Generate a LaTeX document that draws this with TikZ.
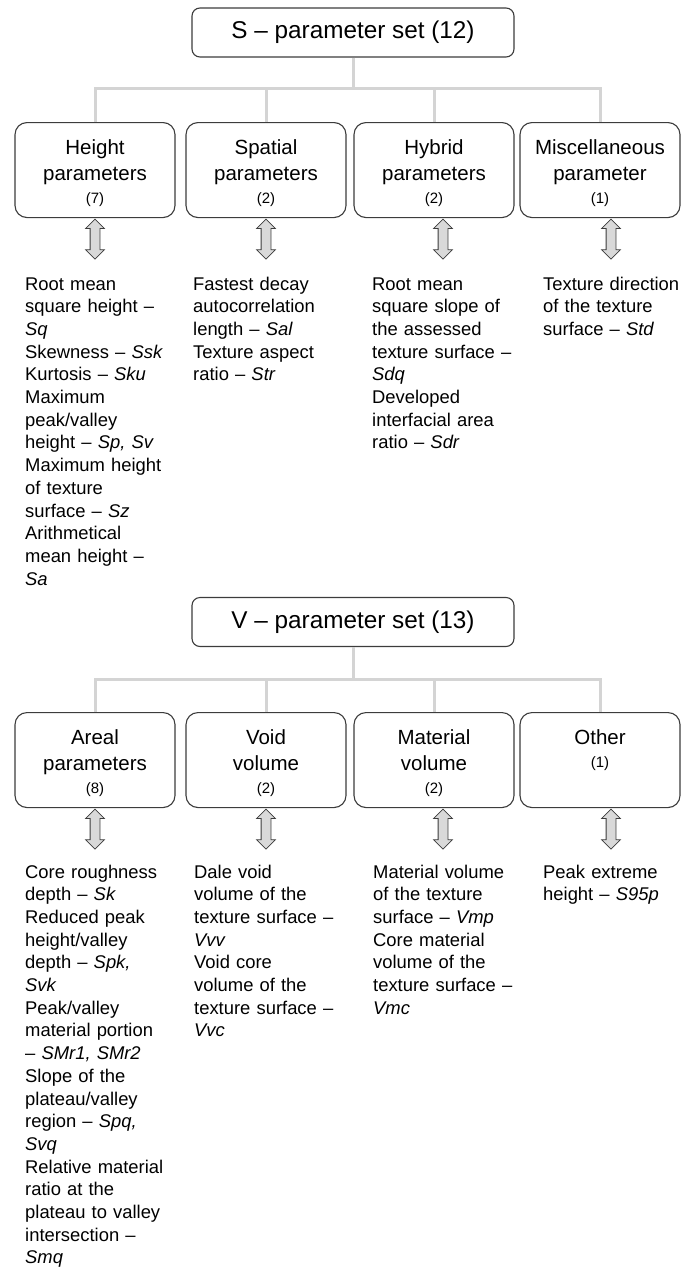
\documentclass[tikz,border=0pt]{standalone}
\usepackage{fontspec}
\setmainfont{Liberation Sans}
\usetikzlibrary{shapes.arrows}
\usetikzlibrary{calc}
\definecolor{boxline}{RGB}{60,60,60}
\definecolor{linkgrey}{RGB}{212,212,212}
\definecolor{arrowfill}{RGB}{217,217,217}

\tikzset{
  setbox/.style={draw=boxline, line width=1.1pt, rounded corners=8pt, minimum width=322pt, minimum height=49pt, inner sep=0pt, font=\fontsize{24.3}{28}\selectfont},
  catbox/.style={draw=boxline, line width=1.1pt, rounded corners=12pt, text width=148pt, inner xsep=6pt, inner ysep=12pt, text height=20pt, text depth=51pt, align=center, anchor=north, font=\fontsize{20.5}{26}\selectfont},
  link/.style={draw=linkgrey, line width=3pt},
  updown/.style={double arrow, draw=boxline, fill=arrowfill, line width=0.8pt, rotate=90, minimum height=40pt, double arrow head extend=4.5pt, inner sep=4.5pt, text height=0pt, text depth=0pt, text width=0pt},
  desc/.style={anchor=base west, inner sep=0pt, text width=170pt, align=left, font=\fontsize{18.4}{22.7}\selectfont},
}
\newcommand{\cnt}[1]{{\fontsize{15}{16}\selectfont(#1)}}

\begin{document}
\begin{tikzpicture}[x=1pt, y=-1pt]
\useasboundingbox (0,0) rectangle (681,1267);

% S - parameter set
\node[setbox] (s) at (353,32.5) {S – parameter set (12)};
\node[catbox] (h1) at (95,122) {Height\\parameters\\[-3pt]\cnt{7}};
\node[catbox] (h2) at (266,122) {Spatial\\parameters\\[-3pt]\cnt{2}};
\node[catbox] (h3) at (434,122) {Hybrid\\parameters\\[-3pt]\cnt{2}};
\node[catbox] (h4) at (600,122) {Miscellaneous\\parameter\\[-3pt]\cnt{1}};

\draw[link] (s.south) -- ++(0,31) coordinate (sj);
\draw[link] (h1.north) |- (sj) -| (h4.north);
\draw[link] (h2.north) -- (h2.north |- sj);
\draw[link] (h3.north) -- (h3.north |- sj);

\node[updown] (a1) at ($(h1.south)+(0,21)$) {};
\node[updown] (a2) at ($(h2.south)+(0,21)$) {};
\node[updown] (a3) at ($(h3.south)+(9,21)$) {};
\node[updown] (a4) at ($(h4.south)+(11,21)$) {};

\node[desc] (t1) at (25,290) {Root mean\\square height –\\\textit{Sq}\\Skewness – \textit{Ssk}\\Kurtosis – \textit{Sku}\\Maximum\\peak/valley\\height – \textit{Sp, Sv}\\Maximum height\\of texture\\surface – \textit{Sz}\\Arithmetical\\mean height –\\\textit{Sa}};
\node[desc] (t2) at (193,290) {Fastest decay\\autocorrelation\\length – \textit{Sal}\\Texture aspect\\ratio – \textit{Str}};
\node[desc] (t3) at (372,290) {Root mean\\square slope of\\the assessed\\texture surface –\\\textit{Sdq}\\Developed\\interfacial area\\ratio – \textit{Sdr}};
\node[desc] (t4) at (543,290) {Texture direction\\of the texture\\surface – \textit{Std}};

% V - parameter set
\node[setbox] (v) at (353,622) {V – parameter set (13)};
\node[catbox] (g1) at (95,712) {Areal\\parameters\\[-3pt]\cnt{8}};
\node[catbox] (g2) at (266,712) {Void\\volume\\[-3pt]\cnt{2}};
\node[catbox] (g3) at (434,712) {Material\\volume\\[-3pt]\cnt{2}};
\node[catbox] (g4) at (600,712) {Other\\[-3pt]\cnt{1}};

\draw[link] (v.south) -- ++(0,32) coordinate (vj);
\draw[link] (g1.north) |- (vj) -| (g4.north);
\draw[link] (g2.north) -- (g2.north |- vj);
\draw[link] (g3.north) -- (g3.north |- vj);

\node[updown] (b1) at ($(g1.south)+(0,21)$) {};
\node[updown] (b2) at ($(g2.south)+(0,21)$) {};
\node[updown] (b3) at ($(g3.south)+(9,21)$) {};
\node[updown] (b4) at ($(g4.south)+(11,21)$) {};

\node[desc] (u1) at (25,878) {Core roughness\\depth – \textit{Sk}\\Reduced peak\\height/valley\\depth – \textit{Spk,}\\\textit{Svk}\\Peak/valley\\material portion\\– \textit{SMr1, SMr2}\\Slope of the\\plateau/valley\\region – \textit{Spq,}\\\textit{Svq}\\Relative material\\ratio at the\\plateau to valley\\intersection –\\\textit{Smq}};
\node[desc] (u2) at (194,878) {Dale void\\volume of the\\texture surface –\\\textit{Vvv}\\Void core\\volume of the\\texture surface –\\\textit{Vvc}};
\node[desc] (u3) at (373,878) {Material volume\\of the texture\\surface – \textit{Vmp}\\Core material\\volume of the\\texture surface –\\\textit{Vmc}};
\node[desc] (u4) at (543,878) {Peak extreme\\height – \textit{S95p}};
\end{tikzpicture}
\end{document}
